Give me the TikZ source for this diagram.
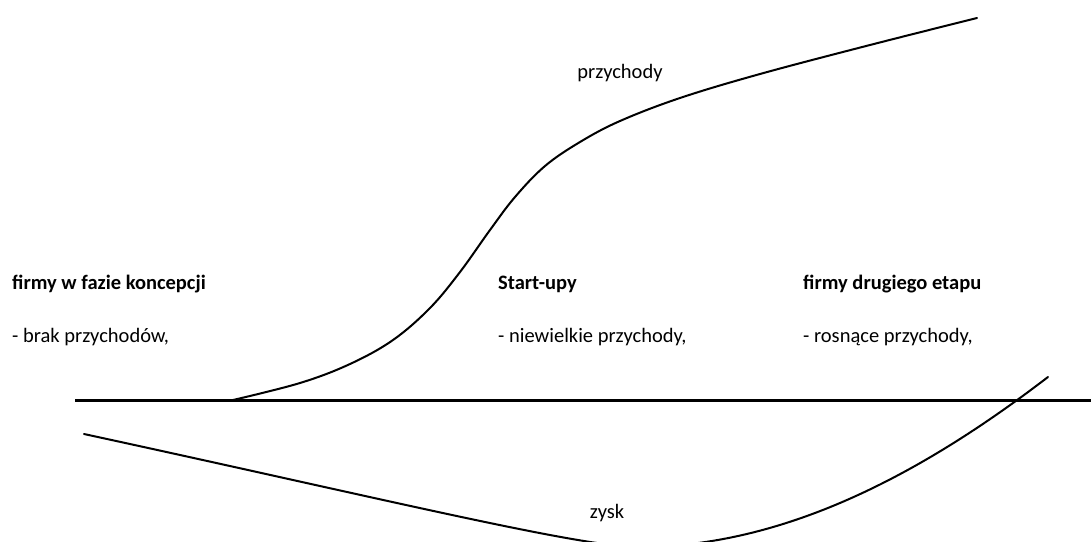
\documentclass[tikz,border=0pt]{standalone}
\usepackage{fontspec}
\setmainfont{Carlito}
\begin{document}
\begin{tikzpicture}[x=1pt,y=-1pt,
  lbl/.style={inner sep=0pt, anchor=base west, font=\fontsize{20.5}{24}\selectfont},
  hdr/.style={inner sep=0pt, anchor=base west, font=\fontsize{20.5}{24}\selectfont\bfseries},
  curvelbl/.style={inner sep=0pt, anchor=base, font=\fontsize{20.5}{24}\selectfont},
  curveline/.style={line width=2pt, line cap=round, line join=round},
  axisline/.style={line width=3pt}]
\useasboundingbox (0,0) rectangle (1091,541);
\begin{scope}
\clip (0,0) rectangle (1091,541);
% axis
\coordinate (axL) at (75,400);
\coordinate (axR) at (1091,400);
\draw[axisline] (axL) -- (axR);
% revenue (przychody)
\draw[curveline] plot[smooth, tension=0.6] coordinates {
  (233,400) (300,383) (350,364) (393,340) (430,308) (460,272) (490,230)
  (515,197) (545,166) (580,142) (620,121) (680,98) (760,74) (870,45) (977,18)};
% profit (zysk)
\coordinate (zs) at (84,434);
\coordinate (zmin) at (639,547);
\coordinate (ze) at (1048,377);
\draw[curveline] (zs) .. controls (384,499) and (579,547) .. (zmin)
  .. controls (789,547) and (928,469) .. (ze);
\end{scope}
% labels
\node[curvelbl] (przych) at (620,78) {przychody};
\node[curvelbl] (zysk) at (607,518) {zysk};
\node[hdr] (h1) at (12,289) {firmy w fazie koncepcji};
\node[lbl] (t1) at (12,342) {- brak przychodów,};
\node[hdr] (h2) at (498,289) {Start-upy};
\node[lbl] (t2) at (498,342) {- niewielkie przychody,};
\node[hdr] (h3) at (803,289) {firmy drugiego etapu};
\node[lbl] (t3) at (803,342) {- rosnące przychody,};
\end{tikzpicture}
\end{document}
